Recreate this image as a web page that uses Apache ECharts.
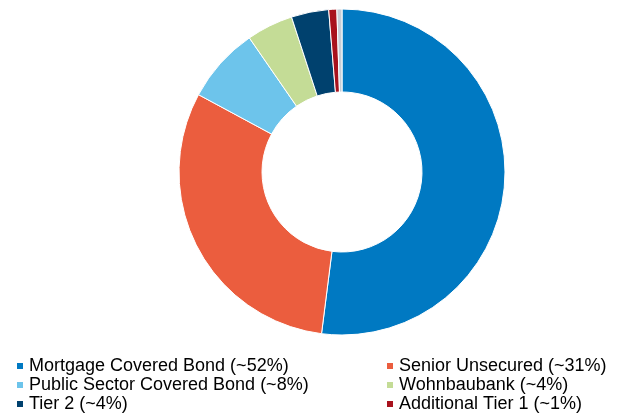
<!DOCTYPE html>
<html>
<head>
<meta charset="utf-8">
<script src="https://cdn.jsdelivr.net/npm/echarts@6/dist/echarts.min.js"></script>
<style>
html,body{margin:0;padding:0;background:#fff;}
#chart{width:618px;height:414px;}
</style>
</head>
<body>
<div id="chart"></div>
<script>
var categories = ['Mortgage Covered Bond (~52%)', 'Senior Unsecured (~31%)', 'Public Sector Covered Bond (~8%)', 'Wohnbaubank (~4%)', 'Tier 2 (~4%)', 'Additional Tier 1 (~1%)', 'Other'];
var values = [51.9, 30.8, 7.5, 4.6, 3.7, 0.8, 0.5];
var colors = ['#0079C2', '#EB5D3E', '#6DC4EB', '#C4DC96', '#00416E', '#A8121D', '#C6CDD6'];
var legendLeft = [categories[0], categories[2], categories[4]];
var legendRight = [categories[1], categories[3], categories[5]];

var chart = echarts.init(document.getElementById('chart'));
var legendCommon = {
  orient: 'vertical',
  top: 357,
  padding: 0,
  itemWidth: 8,
  itemHeight: 8,
  itemGap: 1,
  icon: 'rect',
  selectedMode: false,
  textStyle: { fontFamily: 'Liberation Sans, Arial, sans-serif', fontSize: 18, color: '#000', lineHeight: 18 }
};
chart.setOption({
  animation: false,
  color: colors,
  legend: [
    Object.assign({}, legendCommon, { left: 15, data: legendLeft }),
    Object.assign({}, legendCommon, { left: 385, data: legendRight })
  ],
  series: [{
    type: 'pie',
    center: [342, 172],
    radius: [80, 163],
    startAngle: 90,
    clockwise: true,
    label: { show: false },
    labelLine: { show: false },
    emphasis: { disabled: true },
    itemStyle: { borderColor: '#fff', borderWidth: 1 },
    data: categories.map(function (c, i) { return { name: c, value: values[i] }; })
  }]
});
</script>
</body>
</html>
